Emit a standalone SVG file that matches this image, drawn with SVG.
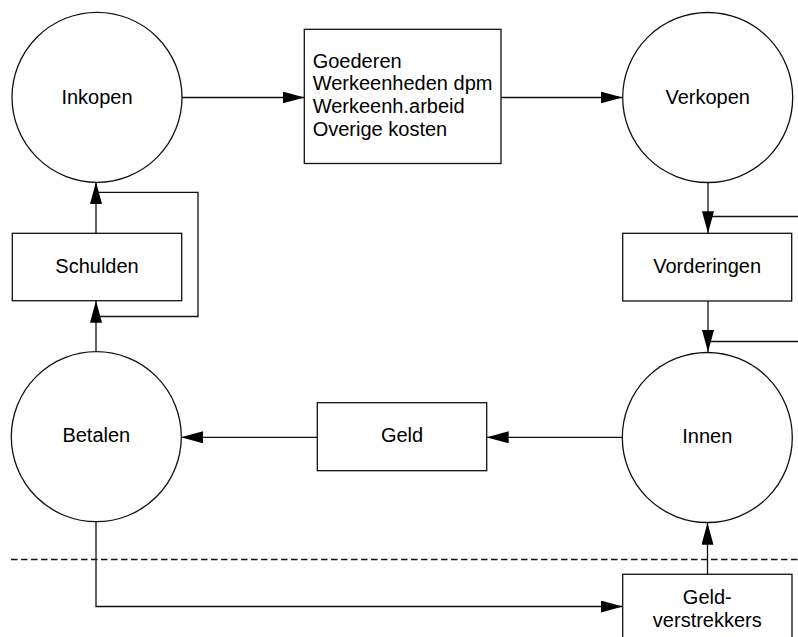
<svg xmlns="http://www.w3.org/2000/svg" width="798" height="637" viewBox="0 0 798 637">
  <style>
    .shape { fill: #fff; stroke: #111; stroke-width: 1.3; }
    .line { fill: none; stroke: #111; stroke-width: 1.3; }
    .dash { fill: none; stroke: #111; stroke-width: 1.3; stroke-dasharray: 6.5 3.5; }
    .label { font-family: "Liberation Sans", Arial, Helvetica, sans-serif; font-size: 20px; fill: #000; }
    .mid { text-anchor: middle; }
  </style>
  <defs>
    <marker id="arrow" viewBox="0 0 22 12" refX="22" refY="6" markerWidth="22" markerHeight="12" markerUnits="userSpaceOnUse" orient="auto">
      <path d="M0,0 L22,6 L0,12 Z" fill="#000"/>
    </marker>
  </defs>

  <rect width="798" height="637" fill="#fff"/>

  <!-- boundary between the company and the outside world -->
  <line class="dash" x1="11" y1="559.5" x2="798" y2="559.5"/>

  <g id="connectors">
    <!-- Inkopen -> resources -> Verkopen -->
    <line class="line" x1="182" y1="97.5" x2="304.5" y2="97.5" marker-end="url(#arrow)"/>
    <line class="line" x1="501" y1="97.5" x2="622.5" y2="97.5" marker-end="url(#arrow)"/>
    <!-- Verkopen -> Vorderingen -> Innen -->
    <line class="line" x1="708" y1="182.5" x2="708" y2="233.3" marker-end="url(#arrow)"/>
    <line class="line" x1="708" y1="216.5" x2="798" y2="216.5"/>
    <line class="line" x1="708" y1="301" x2="708" y2="352" marker-end="url(#arrow)"/>
    <line class="line" x1="708" y1="341.5" x2="798" y2="341.5"/>
    <!-- Innen -> Geld -> Betalen -->
    <line class="line" x1="622.5" y1="437.3" x2="486.7" y2="437.3" marker-end="url(#arrow)"/>
    <line class="line" x1="317.3" y1="437.3" x2="181" y2="437.3" marker-end="url(#arrow)"/>
    <!-- Betalen -> Schulden -> Inkopen, with the bypass loop -->
    <line class="line" x1="96" y1="351.7" x2="96" y2="300.7" marker-end="url(#arrow)"/>
    <line class="line" x1="96" y1="233.3" x2="96" y2="182" marker-end="url(#arrow)"/>
    <polyline class="line" points="96,192.3 198,192.3 198,316.5 96,316.5"/>
    <!-- Betalen -> Geldverstrekkers -> Innen -->
    <polyline class="line" points="96,521.7 96,606.5 622.7,606.5" marker-end="url(#arrow)"/>
    <line class="line" x1="707.5" y1="574.3" x2="707.5" y2="522.7" marker-end="url(#arrow)"/>
  </g>

  <g id="inkopen">
    <circle class="shape" cx="97" cy="97.3" r="85"/>
    <text class="label mid" x="97" y="103.5">Inkopen</text>
  </g>

  <g id="middelen">
    <rect class="shape" x="304.3" y="29.3" width="196.7" height="134.2"/>
    <text class="label" x="312.7" y="67.7">Goederen</text>
    <text class="label" x="312.7" y="90.3">Werkeenheden dpm</text>
    <text class="label" x="312.7" y="113">Werkeenh.arbeid</text>
    <text class="label" x="312.7" y="135.7">Overige kosten</text>
  </g>

  <g id="verkopen">
    <circle class="shape" cx="707.7" cy="97.5" r="85"/>
    <text class="label mid" x="707.7" y="103.5">Verkopen</text>
  </g>

  <g id="vorderingen">
    <rect class="shape" x="622.7" y="233.3" width="169" height="67.7"/>
    <text class="label mid" x="707.2" y="273">Vorderingen</text>
  </g>

  <g id="innen">
    <circle class="shape" cx="707.3" cy="437.5" r="85"/>
    <text class="label mid" x="707.3" y="443">Innen</text>
  </g>

  <g id="geld">
    <rect class="shape" x="317.3" y="402.7" width="169.4" height="68"/>
    <text class="label mid" x="402" y="442">Geld</text>
  </g>

  <g id="betalen">
    <circle class="shape" cx="96.3" cy="436.7" r="85"/>
    <text class="label mid" x="96.3" y="442">Betalen</text>
  </g>

  <g id="schulden">
    <rect class="shape" x="12.3" y="233.3" width="169.4" height="67.4"/>
    <text class="label mid" x="97" y="272.5">Schulden</text>
  </g>

  <g id="geldverstrekkers">
    <rect class="shape" x="622.7" y="574.3" width="169.3" height="70"/>
    <text class="label mid" x="707.3" y="603.5">Geld-</text>
    <text class="label mid" x="707.3" y="627">verstrekkers</text>
  </g>
</svg>
